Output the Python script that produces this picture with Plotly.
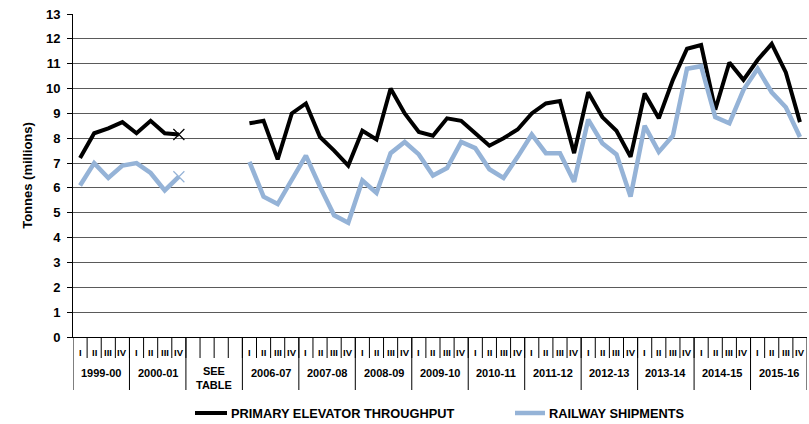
import plotly.graph_objects as go

# ---- data ----
years = ["1999-00", "2000-01", "SEE<br>TABLE", "2006-07", "2007-08", "2008-09", "2009-10",
         "2010-11", "2011-12", "2012-13", "2013-14", "2014-15", "2015-16"]
quarters = ["I", "II", "III", "IV"]
see_table_quarters = ["", "", "", ""]
series_names = ["PRIMARY ELEVATOR THROUGHPUT", "RAILWAY SHIPMENTS"]

primary = [7.2, 8.2, 8.4, 8.65, 8.2, 8.7, 8.2, 8.15,
           None, None, None, None,
           8.6, 8.7, 7.15, 9.0,
           9.4, 8.05, 7.5, 6.9,
           8.3, 7.95, 10.0, 9.0,
           8.25, 8.1, 8.8, 8.7,
           8.2, 7.7, 8.0, 8.35,
           9.0, 9.4, 9.5, 7.4,
           9.85, 8.85, 8.3, 7.25,
           9.8, 8.8, 10.35, 11.6,
           11.75, 9.15, 11.05, 10.35,
           11.15, 11.8, 10.65, 8.65]
railway = [6.1, 7.0, 6.4, 6.9, 7.0, 6.6, 5.9, 6.45,
           None, None, None, None,
           7.05, 5.65, 5.35, 6.3,
           7.3, 6.05, 4.9, 4.6,
           6.3, 5.8, 7.4, 7.85,
           7.35, 6.5, 6.8, 7.85,
           7.6, 6.75, 6.4, 7.25,
           8.15, 7.4, 7.4, 6.25,
           8.75, 7.8, 7.35, 5.65,
           8.5, 7.45, 8.1, 10.8,
           10.9, 8.85, 8.6, 9.95,
           10.8, 9.85, 9.25, 8.05]
y_ticks = list(range(0, 14))
marker_slot = 7  # last quarter of 2000-01 flagged with an X

# ---- build slot labels ----
slot_labels = []
for yr in years:
    qs = see_table_quarters if "TABLE" in yr else quarters
    slot_labels.extend(qs)
xs = list(range(len(slot_labels)))

BLACK = "#000000"
BLUE = "#95B3D7"
FONT = "Liberation Sans, Arial, sans-serif"

fig = go.Figure()
fig.add_trace(go.Scatter(x=xs, y=primary, mode="lines", name=series_names[0], showlegend=False,
                         line=dict(color=BLACK, width=4), connectgaps=False))
fig.add_trace(go.Scatter(x=xs, y=railway, mode="lines", name=series_names[1], showlegend=False,
                         line=dict(color=BLUE, width=4.5), connectgaps=False))
fig.add_trace(go.Scatter(x=[xs[marker_slot]], y=[primary[marker_slot]], mode="markers", showlegend=False,
                         marker=dict(symbol="x-thin", size=11, line=dict(color=BLACK, width=1.2))))
fig.add_trace(go.Scatter(x=[xs[marker_slot]], y=[railway[marker_slot]], mode="markers", showlegend=False,
                         marker=dict(symbol="x-thin", size=11, line=dict(color=BLUE, width=1.2))))

PLOT_L, PLOT_W, PLOT_B, PLOT_H = 73.0, 734.0, 337.0, 323.0
def px_x(p):
    return (p - PLOT_L) / PLOT_W
def px_y(p):
    return (PLOT_B - p) / PLOT_H

shapes = []
annotations = []
q_label_y = px_y(352)
q_row_bottom = px_y(358)
yr_label_y = px_y(373)
see_label_y = px_y(378)
grp_row_bottom = px_y(390)
# quarter labels and dividers
for i, lab in enumerate(slot_labels):
    if lab:
        annotations.append(dict(x=i, y=q_label_y, xref="x", yref="paper", text=lab, showarrow=False,
                                font=dict(family=FONT, size=9.5, color="#000", weight="bold"),
                                xanchor="center", yanchor="middle"))
for i in range(1, len(slot_labels)):
    shapes.append(dict(type="line", xref="x", yref="paper", x0=i - 0.5, x1=i - 0.5,
                       y0=0, y1=q_row_bottom, line=dict(color="#000", width=1)))
# group labels and dividers
pos = 0
for yr in years:
    n = 4
    center = pos + (n - 1) / 2
    two_line = "<br>" in yr
    annotations.append(dict(x=center, y=see_label_y if two_line else yr_label_y, xref="x", yref="paper",
                            text=yr, showarrow=False,
                            font=dict(family=FONT, size=11, color="#000", weight="bold"),
                            xanchor="center", yanchor="middle"))
    shapes.append(dict(type="line", xref="x", yref="paper", x0=pos - 0.5, x1=pos - 0.5,
                       y0=0, y1=grp_row_bottom, line=dict(color="#000", width=1)))
    pos += n
shapes.append(dict(type="line", xref="x", yref="paper", x0=pos - 0.5, x1=pos - 0.5,
                   y0=0, y1=grp_row_bottom, line=dict(color="#000", width=1)))

# legend (drawn as key lines + labels below the axis)
leg_y = px_y(413)
for (lx0, lx1, tx), name, col, w in zip([(195, 227, 229), (515, 545, 547)], series_names,
                                         [BLACK, BLUE], [4, 4.5]):
    shapes.append(dict(type="line", xref="paper", yref="paper", x0=px_x(lx0), x1=px_x(lx1),
                       y0=leg_y, y1=leg_y, line=dict(color=col, width=w)))
    annotations.append(dict(x=px_x(tx), y=leg_y, xref="paper", yref="paper", text=name, showarrow=False,
                            font=dict(family=FONT, size=12.8, color="#000", weight="bold"),
                            xanchor="left", yanchor="middle"))

fig.update_layout(
    width=809, height=424,
    margin=dict(l=73, r=2, t=14, b=87),
    paper_bgcolor="white", plot_bgcolor="white",
    font=dict(family=FONT, color="#000"),
    shapes=shapes, annotations=annotations,
    showlegend=False,
    xaxis=dict(range=[-0.5, len(slot_labels) - 0.5], showticklabels=False, showgrid=False,
               zeroline=False, showline=True, linecolor="#000", linewidth=1, ticks=""),
    yaxis=dict(range=[0, 13], tickvals=y_ticks, showgrid=True, gridcolor="#5a5a5a", gridwidth=1,
               zeroline=False, showline=True, linecolor="#000", linewidth=1,
               ticks="outside", ticklen=5, tickcolor="#000", ticklabelstandoff=4,
               tickfont=dict(family=FONT, size=13, color="#000", weight="bold"),
               title=dict(text="Tonnes (millions)", standoff=10,
                          font=dict(family=FONT, size=13, color="#000", weight="bold"))),
)

fig.write_html("out.html", config={"displayModeBar": False},
               post_script="document.body.style.margin='0';document.body.style.overflow='hidden';")
